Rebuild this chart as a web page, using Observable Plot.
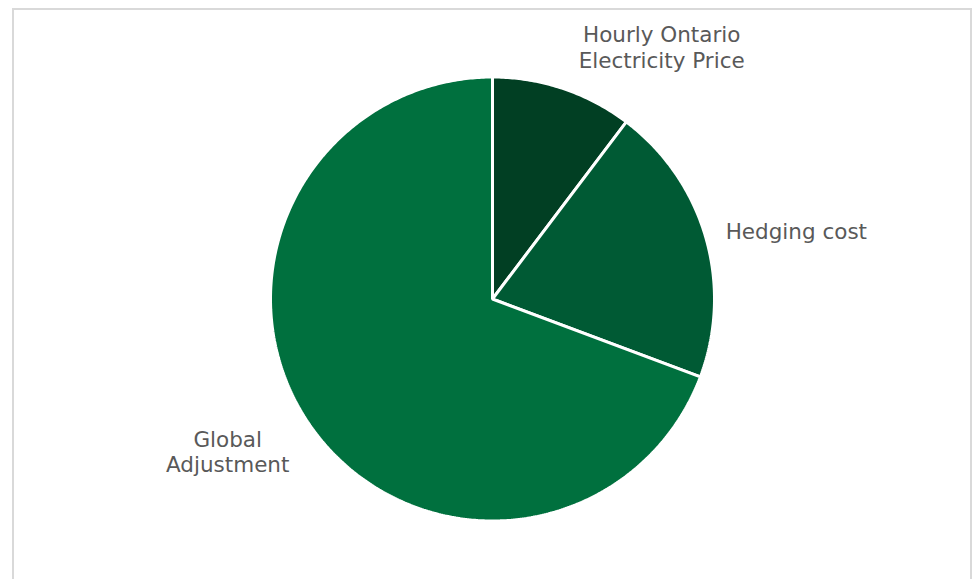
<!DOCTYPE html>
<html>
<head>
<meta charset="utf-8">
<script src="https://cdn.jsdelivr.net/npm/d3@7"></script>
<script src="https://cdn.jsdelivr.net/npm/@observablehq/plot@0.6"></script>
<style>
  html, body { margin: 0; padding: 0; background: #fff; overflow: hidden; }
  #wrap { position: relative; width: 973px; height: 579px; }
  #frame { position: absolute; left: 12px; top: 8px; width: 956px; height: 620px; border: 2px solid #d9d9d9; box-sizing: content-box; pointer-events: none; }
  #chart { position: absolute; left: 0; top: 0; }
</style>
</head>
<body>
<div id="wrap"><div id="chart"></div><div id="frame"></div></div>
<script>
const categories = ["Hourly Ontario\nElectricity Price", "Hedging cost", "Global\nAdjustment"];
const shares = [10.3, 20.4, 69.3];
const colors = ["#013f23", "#005a34", "#00703e"];

const slices = d3.pie().sort(null).value(d => d.value)(
  categories.map((c, i) => ({label: c, value: shares[i]}))
);

// polygon vertices for each wedge, in unit-circle coordinates
const pts = [];
slices.forEach(s => {
  const label = s.data.label;
  pts.push({label, x: 0, y: 0});
  const n = Math.max(8, Math.ceil((s.endAngle - s.startAngle) / 0.01));
  for (let k = 0; k <= n; k++) {
    const a = s.startAngle + (s.endAngle - s.startAngle) * k / n;
    pts.push({label, x: Math.sin(a), y: Math.cos(a)});
  }
});

const labelAt = (i, r) => {
  const s = slices[i];
  const a = (s.startAngle + s.endAngle) / 2;
  return [{label: categories[i], x: r * Math.sin(a), y: r * Math.cos(a)}];
};

const textStyle = {fontSize: 21.5, fill: "#595959", lineHeight: 1.17, fontFamily: "DejaVu Sans, Verdana, sans-serif"};

const cx = 492, cy = 298.5, R = 222;
const chart = Plot.plot({
  width: 973,
  height: 579,
  margin: 0,
  x: {domain: [-1, 1], range: [cx - R, cx + R], axis: null},
  y: {domain: [-1, 1], range: [cy + R, cy - R], axis: null},
  color: {domain: categories, range: colors},
  style: {background: "transparent"},
  marks: [
    Plot.line(pts, {x: "x", y: "y", z: "label", fill: "label", stroke: "#fff", strokeWidth: 3, strokeLinejoin: "miter", curve: "linear-closed"}),
    Plot.text(labelAt(0, 1.15), {x: "x", y: "y", text: "label", textAnchor: "middle", dx: 88, dy: -10, ...textStyle}),
    Plot.text(labelAt(1, 1.15), {x: "x", y: "y", text: "label", textAnchor: "start", dx: -12, dy: 3, ...textStyle}),
    Plot.text(labelAt(2, 1.15), {x: "x", y: "y", text: "label", textAnchor: "middle", dx: -55, dy: 7, ...textStyle})
  ]
});
document.getElementById("chart").appendChild(chart);
</script>
</body>
</html>
